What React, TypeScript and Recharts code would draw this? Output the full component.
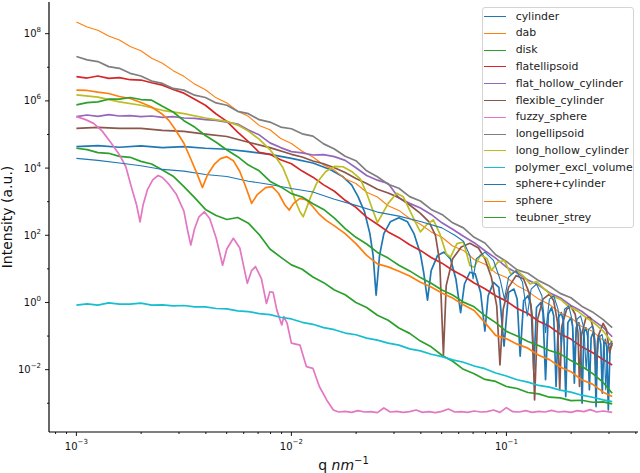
import { LineChart, Line, XAxis, YAxis, Legend } from 'recharts';

const W = 640;
const H = 473;
const PLOT_LEFT = 49;
const PLOT_RIGHT = 638;
const PLOT_TOP = 2;
const PLOT_BOTTOM = 432;
const FONT = '"DejaVu Sans", sans-serif';

// log10 q (nm^-1) for the smooth curves
const Q_GRID = [
  -3.0, -2.95, -2.9, -2.85, -2.8, -2.75, -2.7, -2.65, -2.6, -2.55,
  -2.5, -2.45, -2.4, -2.35, -2.3, -2.25, -2.2, -2.15, -2.1, -2.05,
  -2.0, -1.95, -1.9, -1.85, -1.8, -1.75, -1.7, -1.65, -1.6, -1.55,
  -1.5, -1.45, -1.4, -1.35, -1.3, -1.25, -1.2, -1.15, -1.1, -1.05,
  -1.0, -0.95, -0.9, -0.85, -0.8, -0.75, -0.7, -0.65, -0.6, -0.55, -0.508,
];

// log10 intensity on Q_GRID
const DAB = [
  8.35, 8.2, 8.1, 7.93, 7.81, 7.62, 7.49, 7.27, 7.12, 6.9,
  6.73, 6.5, 6.33, 6.09, 5.94, 5.69, 5.54, 5.27, 5.14, 4.88,
  4.73, 4.5, 4.33, 4.09, 3.94, 3.68, 3.54, 3.28, 3.14, 2.88,
  2.74, 2.5, 2.33, 2.1, 1.94, 1.68, 1.55, 1.28, 1.14, 0.88,
  0.74, 0.5, 0.33, 0.1, -0.06, -0.31, -0.46, -0.71, -0.86, -1.12, -1.28,
];
const DISK = [
  4.59, 4.55, 4.46, 4.44, 4.35, 4.32, 4.2, 4.12, 3.94, 3.76,
  3.45, 3.12, 2.77, 2.59, 2.47, 2.53, 2.36, 2.02, 1.59, 1.35,
  1.12, 0.99, 0.76, 0.59, 0.37, 0.23, 0.0, -0.15, -0.38, -0.53,
  -0.76, -0.92, -1.15, -1.32, -1.57, -1.75, -1.99, -2.12, -2.29, -2.35,
  -2.5, -2.56, -2.68, -2.72, -2.82, -2.84, -2.92, -2.91, -2.97, -2.96, -3.02,
];
const FLAT_ELLIPSOID = [
  6.72, 6.68, 6.74, 6.67, 6.69, 6.63, 6.62, 6.54, 6.47, 6.34,
  6.23, 6.05, 5.87, 5.61, 5.39, 5.07, 4.79, 4.47, 4.41, 4.25,
  4.13, 3.91, 3.73, 3.5, 3.31, 3.04, 2.83, 2.54, 2.33, 2.1,
  1.93, 1.72, 1.55, 1.34, 1.17, 0.96, 0.79, 0.58, 0.41, 0.2,
  0.04, -0.18, -0.33, -0.56, -0.71, -0.94, -1.09, -1.32, -1.49, -1.7, -1.86,
];
const FLAT_HOLLOW_CYLINDER = [
  5.53, 5.58, 5.54, 5.59, 5.55, 5.56, 5.53, 5.55, 5.51, 5.53,
  5.49, 5.48, 5.44, 5.42, 5.37, 5.31, 5.13, 4.99, 4.75, 4.61,
  4.49, 4.45, 4.39, 4.4, 4.34, 4.23, 4.01, 3.78, 3.64, 3.54,
  3.11, 2.95, 2.81, 2.62, 2.37, 2.18, 1.97, 1.78, 1.54, 1.32,
  1.05, 0.88, 0.67, 0.52, 0.29, 0.14, -0.09, -0.26, -0.51, -0.74, -1.02,
];
const LONG_ELLIPSOID = [
  7.32, 7.22, 7.17, 7.02, 6.97, 6.82, 6.74, 6.59, 6.52, 6.37,
  6.32, 6.17, 6.1, 5.94, 5.87, 5.69, 5.62, 5.44, 5.37, 5.22,
  5.17, 5.02, 4.95, 4.72, 4.57, 4.35, 4.22, 3.92, 3.74, 3.52,
  3.4, 3.15, 3.02, 2.77, 2.62, 2.37, 2.22, 1.94, 1.77, 1.42,
  1.22, 0.97, 0.87, 0.65, 0.49, 0.27, 0.14, -0.11, -0.28, -0.51, -0.75,
];
const POLYMER_EXCL_VOLUME = [
  -0.08, -0.04, -0.08, -0.01, -0.05, -0.05, -0.02, -0.08, -0.07, -0.1,
  -0.09, -0.13, -0.13, -0.18, -0.19, -0.25, -0.27, -0.33, -0.36, -0.44,
  -0.49, -0.59, -0.65, -0.75, -0.81, -0.91, -0.96, -1.06, -1.12, -1.21,
  -1.27, -1.38, -1.44, -1.54, -1.61, -1.71, -1.78, -1.89, -1.97, -2.1,
  -2.19, -2.3, -2.37, -2.47, -2.52, -2.61, -2.67, -2.76, -2.82, -2.9, -2.95,
];
const TEUBNER_STREY = [
  5.88, 5.95, 5.97, 6.05, 6.05, 6.1, 6.04, 6.02, 5.84, 5.67,
  5.41, 5.22, 4.97, 4.77, 4.54, 4.34, 4.09, 3.92, 3.61, 3.44,
  3.24, 3.14, 2.94, 2.77, 2.51, 2.2, 1.94, 1.74, 1.49, 1.32,
  1.11, 0.94, 0.74, 0.57, 0.37, 0.22, 0.01, -0.13, -0.39, -0.6,
  -0.86, -1.0, -1.16, -1.28, -1.43, -1.53, -1.73, -1.9, -2.11, -2.38, -2.7,
];

// [log10 q, log10 I] for the oscillating curves
const CYLINDER = [
  [-3.0, 4.64], [-2.9, 4.67], [-2.8, 4.62], [-2.7, 4.66], [-2.6, 4.61], [-2.5, 4.64],
  [-2.4, 4.59], [-2.3, 4.56], [-2.2, 4.49], [-2.1, 4.41], [-2.0, 4.29], [-1.9, 4.15],
  [-1.82, 3.96], [-1.76, 3.74], [-1.72, 3.5], [-1.69, 3.15], [-1.66, 2.7], [-1.635, 2.05],
  [-1.62, 1.4], [-1.606, 0.22], [-1.59, 1.4], [-1.57, 2.05], [-1.54, 2.4], [-1.5, 2.52],
  [-1.46, 2.4], [-1.43, 2.05], [-1.4, 1.45], [-1.385, 0.9], [-1.367, 0.07], [-1.35, 0.95],
  [-1.32, 1.4], [-1.29, 1.5], [-1.26, 1.3], [-1.235, 0.7], [-1.213, -0.3], [-1.195, 0.55],
  [-1.17, 0.9], [-1.145, 0.85], [-1.12, 0.3], [-1.1, -0.85], [-1.085, 0.2], [-1.06, 0.6],
  [-1.035, 0.45], [-1.011, -1.3], [-0.99, 0.3], [-0.965, 0.4], [-0.95, 0.1], [-0.936, -1.6],
  [-0.92, 0.05], [-0.9, 0.2], [-0.885, -0.1], [-0.873, -2.0], [-0.86, -0.15], [-0.84, 0.0],
  [-0.83, -0.3], [-0.818, -2.3], [-0.805, -0.35], [-0.79, -0.15], [-0.78, -0.4], [-0.769, -2.5],
  [-0.758, -0.45], [-0.745, -0.3], [-0.735, -0.55], [-0.724, -2.8], [-0.714, -0.6], [-0.7, -0.45],
  [-0.692, -0.7], [-0.684, -2.4], [-0.675, -0.75], [-0.663, -0.6], [-0.656, -0.85], [-0.648, -3.0],
  [-0.64, -0.9], [-0.63, -0.75], [-0.622, -1.0], [-0.614, -2.6], [-0.606, -1.05], [-0.597, -0.9],
  [-0.59, -1.1], [-0.583, -3.1], [-0.576, -1.15], [-0.568, -1.0], [-0.561, -1.25], [-0.554, -2.7],
  [-0.547, -1.25], [-0.54, -1.1], [-0.533, -1.35], [-0.526, -3.2], [-0.518, -1.35], [-0.508, -1.25],
];
const FLEXIBLE_CYLINDER = [
  [-3.0, 5.18], [-2.9, 5.21], [-2.8, 5.18], [-2.7, 5.18], [-2.6, 5.12], [-2.5, 5.09],
  [-2.4, 5.01], [-2.3, 4.94], [-2.2, 4.77], [-2.1, 4.61], [-2.0, 4.41], [-1.95, 4.33],
  [-1.9, 4.21], [-1.85, 4.13], [-1.8, 4.01], [-1.75, 3.87], [-1.7, 3.69], [-1.65, 3.54],
  [-1.6, 3.37], [-1.55, 3.26], [-1.5, 3.12], [-1.45, 2.9], [-1.4, 2.65], [-1.36, 2.4],
  [-1.33, 2.0], [-1.31, 1.2], [-1.293, -1.56], [-1.28, 0.5], [-1.25, 1.3], [-1.21, 1.65],
  [-1.17, 1.76], [-1.13, 1.62], [-1.1, 1.3], [-1.07, 0.75], [-1.045, -0.1], [-1.03, -1.86],
  [-1.015, -0.2], [-0.99, 0.45], [-0.955, 0.8], [-0.92, 0.7], [-0.895, 0.3], [-0.88, -0.4],
  [-0.869, -2.9], [-0.855, -0.5], [-0.83, 0.1], [-0.8, 0.25], [-0.78, 0.05], [-0.762, -0.6],
  [-0.752, -2.6], [-0.742, -0.7], [-0.72, -0.2], [-0.7, -0.12], [-0.68, -0.35], [-0.667, -0.9],
  [-0.66, -2.5], [-0.652, -1.0], [-0.63, -0.45], [-0.61, -0.45], [-0.595, -0.8], [-0.583, -2.0],
  [-0.573, -1.0], [-0.55, -0.62], [-0.535, -0.8], [-0.52, -1.5], [-0.508, -1.2],
];
const FUZZY_SPHERE = [
  [-3.0, 5.53], [-2.96, 5.45], [-2.92, 5.33], [-2.88, 5.1], [-2.84, 4.76], [-2.8, 4.4],
  [-2.77, 4.04], [-2.745, 3.45], [-2.72, 2.9], [-2.704, 2.4], [-2.69, 2.9], [-2.67, 3.35],
  [-2.645, 3.65], [-2.62, 3.78], [-2.6, 3.72], [-2.57, 3.52], [-2.535, 3.22], [-2.5, 2.72],
  [-2.483, 2.15], [-2.468, 1.71], [-2.45, 2.2], [-2.43, 2.55], [-2.405, 2.7], [-2.38, 2.5],
  [-2.35, 1.92], [-2.32, 1.11], [-2.3, 1.6], [-2.27, 1.91], [-2.24, 1.62], [-2.205, 0.57],
  [-2.185, 0.95], [-2.167, 1.07], [-2.14, 0.72], [-2.116, -0.03], [-2.1, 0.32], [-2.085, 0.3],
  [-2.068, -0.22], [-2.045, -0.67], [-2.035, -0.42], [-2.02, -0.62], [-2.0, -1.21], [-1.96, -1.27],
  [-1.93, -1.91], [-1.9, -1.96], [-1.87, -2.5], [-1.836, -2.9], [-1.805, -3.2], [-1.78, -3.26],
  [-1.75, -3.24], [-1.72, -3.27], [-1.69, -3.22], [-1.66, -3.26], [-1.63, -3.25], [-1.6, -3.28],
  [-1.57, -3.14], [-1.54, -3.26], [-1.51, -3.24], [-1.48, -3.27], [-1.45, -3.25], [-1.42, -3.2],
  [-1.39, -3.27], [-1.36, -3.25], [-1.33, -3.28], [-1.3, -3.24], [-1.27, -3.17], [-1.24, -3.26],
  [-1.21, -3.25], [-1.18, -3.27], [-1.15, -3.23], [-1.12, -3.26], [-1.09, -3.25], [-1.06, -3.2],
  [-1.03, -3.27], [-1.0, -3.13], [-0.97, -3.25], [-0.94, -3.26], [-0.91, -3.22], [-0.88, -3.27],
  [-0.85, -3.24], [-0.82, -3.26], [-0.79, -3.21], [-0.76, -3.26], [-0.73, -3.24], [-0.7, -3.27],
  [-0.67, -3.22], [-0.64, -3.25], [-0.61, -3.19], [-0.58, -3.26], [-0.55, -3.23], [-0.508, -3.27],
];
const LONG_HOLLOW_CYLINDER = [
  [-3.0, 6.18], [-2.9, 6.11], [-2.8, 5.97], [-2.7, 5.87], [-2.6, 5.72], [-2.5, 5.62],
  [-2.4, 5.49], [-2.3, 5.39], [-2.25, 5.28], [-2.2, 5.1], [-2.15, 4.86], [-2.1, 4.55],
  [-2.07, 4.3], [-2.04, 4.02], [-2.01, 3.55], [-1.98, 3.0], [-1.96, 2.7], [-1.945, 2.55],
  [-1.93, 2.8], [-1.91, 3.15], [-1.88, 3.58], [-1.84, 3.9], [-1.8, 4.05], [-1.76, 4.04],
  [-1.72, 3.9], [-1.68, 3.68], [-1.65, 3.25], [-1.62, 2.72], [-1.6, 2.38], [-1.58, 2.6],
  [-1.55, 2.95], [-1.51, 3.25], [-1.48, 3.15], [-1.45, 2.75], [-1.42, 2.35], [-1.4, 2.1],
  [-1.37, 2.32], [-1.34, 2.46], [-1.31, 2.05], [-1.28, 1.45], [-1.26, 1.35], [-1.23, 1.75],
  [-1.2, 1.8], [-1.17, 1.1], [-1.15, 1.05], [-1.12, 1.42], [-1.09, 1.3], [-1.07, 0.95],
  [-1.04, 1.2], [-1.01, 1.25], [-0.98, 0.85], [-0.95, 0.95], [-0.92, 0.78], [-0.89, 0.55],
  [-0.86, 0.62], [-0.82, 0.38], [-0.79, 0.2], [-0.75, 0.1], [-0.71, -0.12], [-0.67, -0.25],
  [-0.63, -0.45], [-0.59, -0.62], [-0.55, -0.85], [-0.508, -1.2],
];
const SPHERE_CYLINDER = [
  [-3.0, 4.29], [-2.9, 4.23], [-2.8, 4.15], [-2.7, 4.07], [-2.6, 3.96], [-2.5, 3.91],
  [-2.4, 3.81], [-2.3, 3.75], [-2.2, 3.61], [-2.1, 3.51], [-2.0, 3.39], [-1.9, 3.29],
  [-1.8, 3.07], [-1.7, 2.89], [-1.6, 2.69], [-1.5, 2.57], [-1.4, 2.41], [-1.3, 2.22],
  [-1.24, 2.0], [-1.2, 1.82], [-1.17, 1.4], [-1.155, 0.7], [-1.14, 1.3], [-1.1, 1.5],
  [-1.06, 1.25], [-1.03, 0.7], [-1.009, 0.1], [-0.99, 0.75], [-0.955, 0.95], [-0.925, 0.6],
  [-0.903, -0.4], [-0.885, 0.4], [-0.86, 0.55], [-0.835, 0.2], [-0.818, -0.9], [-0.8, 0.1],
  [-0.78, 0.2], [-0.76, -0.2], [-0.745, -1.3], [-0.73, -0.2], [-0.71, -0.1], [-0.695, -0.5],
  [-0.684, -1.6], [-0.672, -0.5], [-0.655, -0.4], [-0.64, -0.75], [-0.629, -2.0], [-0.618, -0.8],
  [-0.6, -0.7], [-0.59, -1.0], [-0.582, -2.2], [-0.572, -1.05], [-0.555, -0.95], [-0.545, -1.3],
  [-0.538, -2.6], [-0.528, -1.3], [-0.508, -1.15],
];
const SPHERE = [
  [-3.0, 6.32], [-2.95, 6.31], [-2.9, 6.26], [-2.85, 6.22], [-2.8, 6.13], [-2.75, 6.07],
  [-2.7, 5.95], [-2.65, 5.82], [-2.6, 5.6], [-2.57, 5.42], [-2.54, 5.15], [-2.5, 4.74],
  [-2.47, 4.3], [-2.44, 3.85], [-2.414, 3.42], [-2.39, 3.8], [-2.36, 4.1], [-2.33, 4.28],
  [-2.3, 4.34], [-2.27, 4.22], [-2.24, 3.9], [-2.21, 3.4], [-2.185, 2.95], [-2.16, 3.2],
  [-2.12, 3.42], [-2.09, 3.45], [-2.06, 3.25], [-2.03, 2.9], [-2.01, 2.75], [-1.99, 2.95],
  [-1.96, 3.1], [-1.93, 3.05], [-1.9, 2.85], [-1.87, 2.62], [-1.84, 2.45], [-1.8, 2.28],
  [-1.75, 2.05], [-1.7, 1.75], [-1.65, 1.4], [-1.6, 1.15], [-1.55, 1.06], [-1.5, 0.93],
  [-1.45, 0.79], [-1.4, 0.6], [-1.35, 0.46], [-1.3, 0.28], [-1.25, 0.13], [-1.2, -0.07],
  [-1.15, -0.24], [-1.1, -0.6], [-1.05, -0.98], [-1.0, -1.08], [-0.95, -1.24], [-0.9, -1.36],
  [-0.85, -1.57], [-0.8, -1.7], [-0.75, -1.92], [-0.7, -2.06], [-0.65, -2.3], [-0.6, -2.43],
  [-0.55, -2.67], [-0.508, -2.8],
];

const X_TICKS = [
  0.0008, 0.0009, 0.001, 0.002, 0.003, 0.004, 0.005, 0.006, 0.007, 0.008, 0.009,
  0.01, 0.02, 0.03, 0.04, 0.05, 0.06, 0.07, 0.08, 0.09, 0.1, 0.2, 0.3, 0.4,
];
const X_MAJOR = [0.001, 0.01, 0.1];
const Y_TICKS = [1e-3, 1e-2, 1e-1, 1, 1e1, 1e2, 1e3, 1e4, 1e5, 1e6, 1e7, 1e8];
const Y_MAJOR = [1e-2, 1, 1e2, 1e4, 1e6, 1e8];
const X_DOMAIN = [7.457e-4, 0.4093];
const Y_DOMAIN = [1.396e-4, 8.77e8];

const fromGrid = (vals: number[]) => Q_GRID.map((lq, i) => ({ q: 10 ** lq, v: 10 ** vals[i] }));
const fromPairs = (pairs: number[][]) => pairs.map(([lq, li]) => ({ q: 10 ** lq, v: 10 ** li }));

const SERIES = [
  { name: 'cylinder', color: '#1f77b4', width: 1.7, data: fromPairs(CYLINDER) },
  { name: 'dab', color: '#ff7f0e', width: 1.1, data: fromGrid(DAB) },
  { name: 'disk', color: '#2ca02c', width: 1.7, data: fromGrid(DISK) },
  { name: 'flatellipsoid', color: '#d62728', width: 1.7, data: fromGrid(FLAT_ELLIPSOID) },
  { name: 'flat_hollow_cylinder', color: '#9467bd', width: 1.7, data: fromGrid(FLAT_HOLLOW_CYLINDER) },
  { name: 'flexible_cylinder', color: '#8c564b', width: 1.7, data: fromPairs(FLEXIBLE_CYLINDER) },
  { name: 'fuzzy_sphere', color: '#e377c2', width: 1.7, data: fromPairs(FUZZY_SPHERE) },
  { name: 'longellipsoid', color: '#7f7f7f', width: 1.7, data: fromGrid(LONG_ELLIPSOID) },
  { name: 'long_hollow_cylinder', color: '#bcbd22', width: 1.7, data: fromPairs(LONG_HOLLOW_CYLINDER) },
  { name: 'polymer_excl_volume', color: '#17becf', width: 1.7, data: fromGrid(POLYMER_EXCL_VOLUME) },
  { name: 'sphere+cylinder', color: '#1f77b4', width: 1.1, data: fromPairs(SPHERE_CYLINDER) },
  { name: 'sphere', color: '#ff7f0e', width: 1.7, data: fromPairs(SPHERE) },
  { name: 'teubner_strey', color: '#2ca02c', width: 1.7, data: fromGrid(TEUBNER_STREY) },
];

const expLabel = (v: number) => {
  const e = Math.round(Math.log10(v));
  return e < 0 ? `\u2212${-e}` : `${e}`;
};

const renderXTick = (props: any) => {
  const { x, y, payload } = props;
  const major = X_MAJOR.some((m) => Math.abs(m - payload.value) < m * 1e-6);
  return (
    <g>
      <line x1={x} x2={x} y1={y} y2={y + (major ? 4 : 2)} stroke="#000" strokeWidth={0.9} />
      {major && (
        <text x={x} y={y + 18} textAnchor="middle" fontFamily={FONT} fontSize={10} fill="#111">
          10<tspan dy={-6} fontSize={7}>{expLabel(payload.value)}</tspan>
        </text>
      )}
    </g>
  );
};

const renderYTick = (props: any) => {
  const { x, y, payload } = props;
  const major = Y_MAJOR.some((m) => Math.abs(m - payload.value) < m * 1e-6);
  return (
    <g>
      <line x1={x} x2={x - (major ? 4 : 2)} y1={y} y2={y} stroke="#000" strokeWidth={0.9} />
      {major && (
        <text x={x - 8} y={y + 3.6} textAnchor="end" fontFamily={FONT} fontSize={10} fill="#111">
          10<tspan dy={-5} fontSize={7}>{expLabel(payload.value)}</tspan>
        </text>
      )}
    </g>
  );
};

const renderXTitle = () => (
  <text x={(PLOT_LEFT + PLOT_RIGHT) / 2} y={470} textAnchor="middle" fontFamily={FONT} fontSize={14} fill="#111">
    q <tspan fontStyle="italic">nm</tspan>
    <tspan dy={-6} fontSize={10}>{'\u22121'}</tspan>
  </text>
);

const renderYTitle = () => {
  const cy = (PLOT_TOP + PLOT_BOTTOM) / 2;
  return (
    <text x={12} y={cy} transform={`rotate(-90 12 ${cy})`} textAnchor="middle" fontFamily={FONT} fontSize={14} fill="#111">
      Intensity (a.u.)
    </text>
  );
};

const renderLegend = () => (
  <div
    style={{
      boxSizing: 'border-box',
      width: 152,
      height: 221,
      border: '1px solid #d4d4d4',
      borderRadius: 3,
      background: 'rgba(255,255,255,0.85)',
      fontFamily: FONT,
      fontSize: 10.9,
      color: '#222',
    }}
  >
    {SERIES.map((s) => (
      <div key={s.name} style={{ display: 'flex', alignItems: 'center', height: 16.78 }}>
        <div style={{ marginLeft: 1.3, width: 22, height: 0, borderTop: `${s.width}px solid ${s.color}` }} />
        <span style={{ marginLeft: 9.7, lineHeight: '12px', whiteSpace: 'nowrap' }}>{s.name}</span>
      </div>
    ))}
  </div>
);

export default function App() {
  return (
    <div style={{ position: 'absolute', left: 0, top: 0, width: W, height: H, background: '#fff' }}>
      <LineChart width={W} height={H} margin={{ top: PLOT_TOP, right: W - PLOT_RIGHT, bottom: 0, left: 0 }}>
        <XAxis
          dataKey="q"
          type="number"
          scale="log"
          domain={X_DOMAIN}
          allowDataOverflow
          ticks={X_TICKS}
          interval={0}
          tick={renderXTick}
          tickSize={0}
          tickMargin={0}
          tickLine={false}
          height={H - PLOT_BOTTOM}
          axisLine={{ stroke: '#000', strokeWidth: 1.2 }}
          label={renderXTitle}
        />
        <YAxis
          type="number"
          scale="log"
          domain={Y_DOMAIN}
          allowDataOverflow
          ticks={Y_TICKS}
          interval={0}
          tick={renderYTick}
          tickSize={0}
          tickMargin={0}
          tickLine={false}
          width={PLOT_LEFT}
          axisLine={{ stroke: '#000', strokeWidth: 1.2 }}
          label={renderYTitle}
        />
        <XAxis
          xAxisId="top"
          orientation="top"
          type="number"
          scale="log"
          domain={X_DOMAIN}
          allowDataOverflow
          height={0}
          tick={false}
          tickLine={false}
          axisLine={{ stroke: '#000', strokeWidth: 1.2 }}
        />
        <YAxis
          yAxisId="right"
          orientation="right"
          type="number"
          scale="log"
          domain={Y_DOMAIN}
          allowDataOverflow
          width={0}
          tick={false}
          tickLine={false}
          axisLine={{ stroke: '#000', strokeWidth: 1.2 }}
        />
        {SERIES.map((s) => (
          <Line
            key={s.name}
            data={s.data}
            dataKey="v"
            name={s.name}
            type="linear"
            stroke={s.color}
            strokeWidth={s.width}
            strokeLinejoin="round"
            dot={false}
            activeDot={false}
            isAnimationActive={false}
          />
        ))}
        <Legend
          layout="vertical"
          align="center"
          verticalAlign="middle"
          content={renderLegend}
          wrapperStyle={{ left: 481.7, top: 7.3, width: 152, height: 221 }}
        />
      </LineChart>
    </div>
  );
}
